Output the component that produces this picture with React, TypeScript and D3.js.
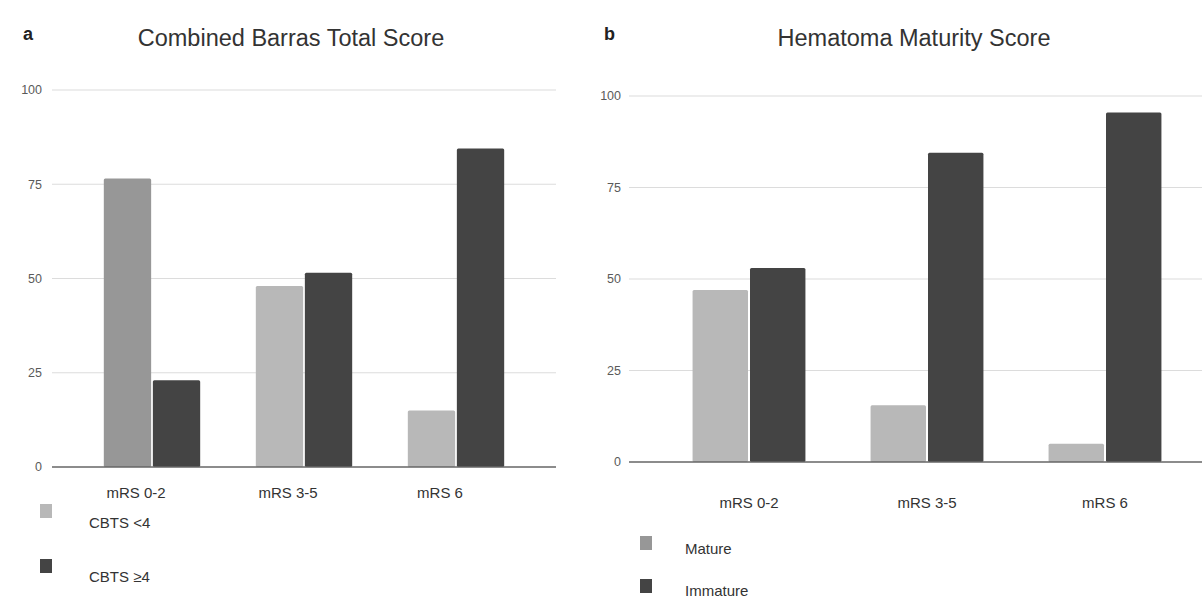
import React from "react";
import * as d3 from "d3";

const categories = ["mRS 0-2", "mRS 3-5", "mRS 6"];
const yTicks = [0, 25, 50, 75, 100];

// Panel a
const cbtsLow = [76.5, 48, 15];
const cbtsHigh = [23, 51.5, 84.5];
const cbtsLowColors = ["#979797", "#b8b8b8", "#b8b8b8"];
const cbtsHighColors = ["#444444", "#444444", "#444444"];
const legendA = ["CBTS <4", "CBTS ≥4"];
const legendAColors = ["#b8b8b8", "#444444"];

// Panel b
const mature = [47, 15.5, 5];
const immature = [53, 84.5, 95.5];
const matureColors = ["#b8b8b8", "#b8b8b8", "#b8b8b8"];
const immatureColors = ["#444444", "#444444", "#444444"];
const legendB = ["Mature", "Immature"];
const legendBColors = ["#979797", "#444444"];

const FONT = "'Liberation Sans', Arial, sans-serif";

type PanelProps = {
  letter: string;
  letterX: number;
  title: string;
  titleX: number;
  series: number[][];
  colors: string[][];
  y0: number;
  y100: number;
  gridX0: number;
  gridX1: number;
  bandRange: [number, number];
  inner: number;
  tickX: number;
  catY: number;
  catDx: number;
  legend: string[];
  legendColors: string[];
  legendX: number;
  legendTextX: number;
  legendSqY: number[];
  legendTextY: number[];
};

function Panel(p: PanelProps) {
  const y = d3.scaleLinear().domain([0, 100]).range([p.y0, p.y100]);
  const x = d3
    .scaleBand<string>()
    .domain(categories)
    .range(p.bandRange)
    .paddingInner(0.366)
    .paddingOuter(0.183);
  const xi = d3
    .scaleBand<number>()
    .domain([0, 1])
    .range([0, x.bandwidth()])
    .paddingInner(p.inner);
  return (
    <g>
      <text x={p.letterX} y={40} fontFamily={FONT} fontWeight="bold" fontSize={18} fill="#222">
        {p.letter}
      </text>
      <text x={p.titleX} y={46} fontFamily={FONT} fontSize={23.5} fill="#333" textAnchor="middle">
        {p.title}
      </text>
      {yTicks.map((t) => (
        <g key={t}>
          {t > 0 && (
            <line x1={p.gridX0} x2={p.gridX1} y1={y(t)} y2={y(t)} stroke="#dcdcdc" strokeWidth={1.2} />
          )}
          <text
            x={p.tickX}
            y={y(t)}
            dy="0.35em"
            textAnchor="end"
            fontFamily={FONT}
            fontSize={12.5}
            fill="#5a5a5a"
          >
            {t}
          </text>
        </g>
      ))}
      {p.series.map((vals, si) =>
        vals.map((v, ci) => (
          <rect
            key={`${si}-${ci}`}
            x={(x(categories[ci]) ?? 0) + (xi(si) ?? 0)}
            y={y(v)}
            width={xi.bandwidth()}
            height={y(0) - y(v)}
            fill={p.colors[si][ci]}
            rx={1.5}
          />
        ))
      )}
      <line x1={p.gridX0} x2={p.gridX1} y1={y(0)} y2={y(0)} stroke="#666" strokeWidth={1.5} />
      {categories.map((c) => (
        <text
          key={c}
          x={(x(c) ?? 0) + x.bandwidth() / 2 + p.catDx}
          y={p.catY}
          textAnchor="middle"
          fontFamily={FONT}
          fontSize={15}
          fill="#333"
        >
          {c}
        </text>
      ))}
      {p.legend.map((l, i) => (
        <g key={l}>
          <rect x={p.legendX} y={p.legendSqY[i]} width={12} height={14} fill={p.legendColors[i]} />
          <text x={p.legendTextX} y={p.legendTextY[i]} fontFamily={FONT} fontSize={15} fill="#333">
            {l}
          </text>
        </g>
      ))}
    </g>
  );
}

export default function App() {
  return (
    <svg
      width={1202}
      height={598}
      style={{ position: "absolute", left: 0, top: 0, background: "#fff" }}
    >
      <rect width={1202} height={598} fill="#fff" />
      <Panel
        letter="a"
        letterX={23}
        title="Combined Barras Total Score"
        titleX={291}
        series={[cbtsLow, cbtsHigh]}
        colors={[cbtsLowColors, cbtsHighColors]}
        y0={467}
        y100={90}
        gridX0={52}
        gridX1={556}
        bandRange={[76, 532]}
        inner={0.035}
        tickX={42}
        catY={498}
        catDx={-16}
        legend={legendA}
        legendColors={legendAColors}
        legendX={40}
        legendTextX={89}
        legendSqY={[504, 559]}
        legendTextY={[528, 582]}
      />
      <Panel
        letter="b"
        letterX={604}
        title="Hematoma Maturity Score"
        titleX={914}
        series={[mature, immature]}
        colors={[matureColors, immatureColors]}
        y0={462}
        y100={96}
        gridX0={629}
        gridX1={1202}
        bandRange={[660, 1194]}
        inner={0.035}
        tickX={621}
        catY={508}
        catDx={0}
        legend={legendB}
        legendColors={legendBColors}
        legendX={640}
        legendTextX={685}
        legendSqY={[536, 579]}
        legendTextY={[554, 596]}
      />
    </svg>
  );
}
